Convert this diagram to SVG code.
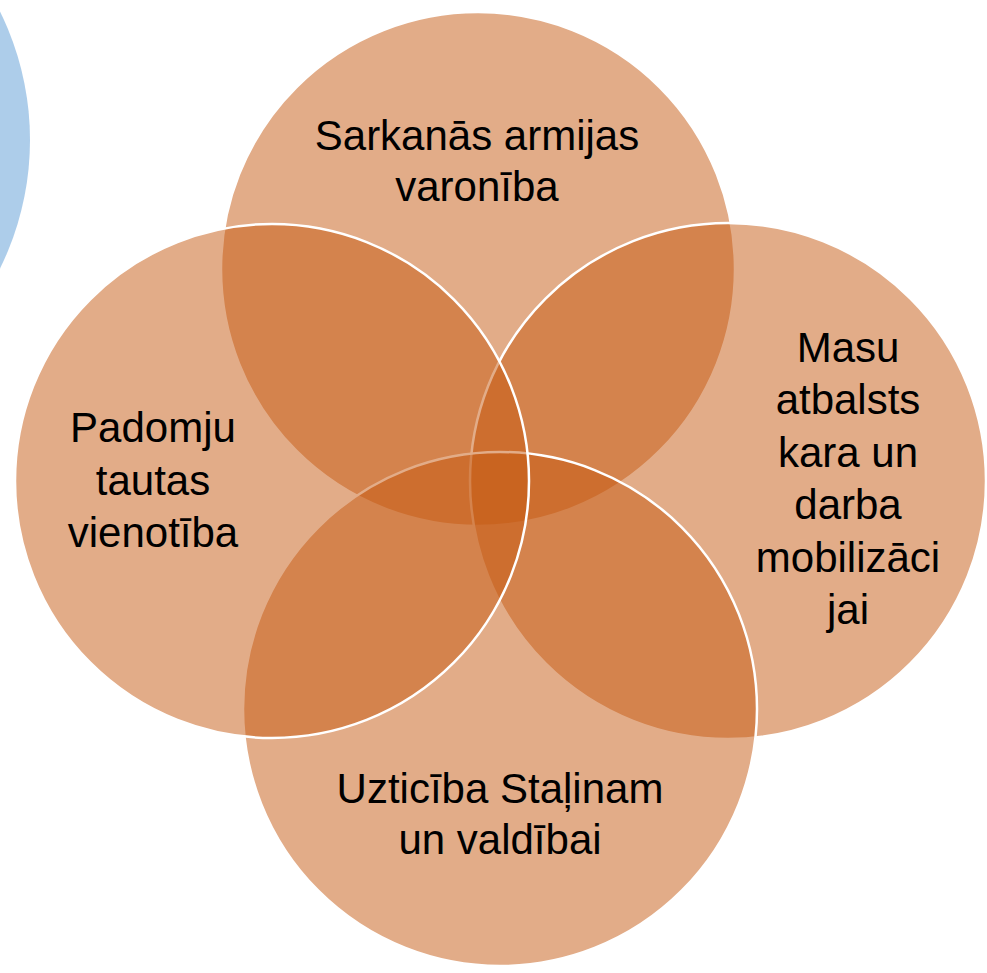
<svg xmlns="http://www.w3.org/2000/svg" width="987" height="973" viewBox="0 0 987 973">
<style>
.c{fill:#C55A11;fill-opacity:0.5;stroke:#FFFFFF;stroke-width:2.5}
.b{fill:#5B9BD5;fill-opacity:0.5;stroke:none}
.t{font-family:"Liberation Sans",Arial,sans-serif;font-size:42px;fill:#000000;text-anchor:middle}
</style>
<rect width="987" height="973" fill="#FFFFFF"/>
<g id="blue-circle"><circle class="b" cx="-260" cy="140" r="290"/></g>
<g id="node-top">
<circle class="c" cx="478" cy="269" r="257"/>
<text class="t" x="477" y="150">Sarkanās armijas</text>
<text class="t" x="477" y="201">varonība</text>
</g>
<g id="node-right">
<circle class="c" cx="728" cy="481" r="258"/>
<text class="t" x="848" y="362">Masu</text>
<text class="t" x="848" y="414">atbalsts</text>
<text class="t" x="848" y="467">kara un</text>
<text class="t" x="848" y="519">darba</text>
<text class="t" x="848" y="572">mobilizāci</text>
<text class="t" x="848" y="624">jai</text>
</g>
<g id="node-bottom">
<circle class="c" cx="500" cy="709" r="257"/>
<text class="t" x="500" y="803">Uzticība Staļinam</text>
<text class="t" x="500" y="854">un valdībai</text>
</g>
<g id="node-left">
<circle class="c" cx="272" cy="481" r="257"/>
<text class="t" x="153" y="442">Padomju</text>
<text class="t" x="153" y="495">tautas</text>
<text class="t" x="153" y="547">vienotība</text>
</g>
<g id="connectors"/>
</svg>
